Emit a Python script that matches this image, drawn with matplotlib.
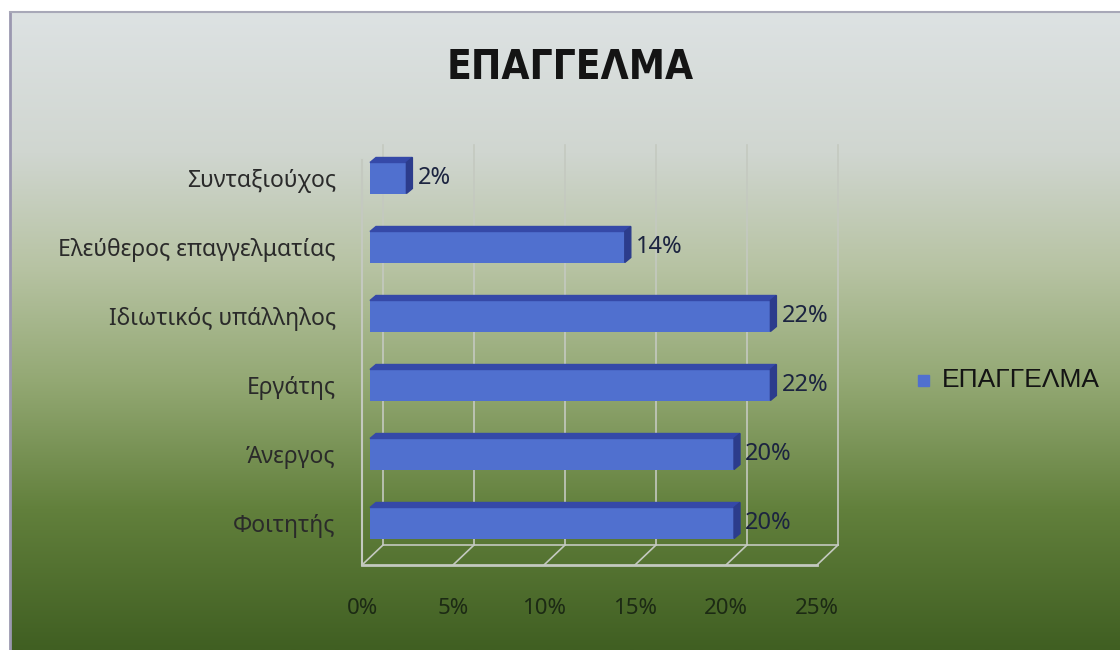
import numpy as np
import matplotlib
matplotlib.use("Agg")
import matplotlib.pyplot as plt
from matplotlib import font_manager as fm
from matplotlib.colors import LinearSegmentedColormap
from matplotlib.patches import Polygon

# ---- data ----
categories = ["Φοιτητής", "Άνεργος", "Εργάτης", "Ιδιωτικός υπάλληλος",
              "Ελεύθερος επαγγελματίας", "Συνταξιούχος"]
values = [20, 20, 22, 22, 14, 2]
value_labels = ["20%", "20%", "22%", "22%", "14%", "2%"]
xticks = [0, 5, 10, 15, 20, 25]
xtick_labels = ["0%", "5%", "10%", "15%", "20%", "25%"]
title = "ΕΠΑΓΓΕΛΜΑ"
series_name = "ΕΠΑΓΓΕΛΜΑ"

W, H = 1120, 650
fig = plt.figure(figsize=(W / 100, H / 100), dpi=100)
fig.patch.set_facecolor("white")

# list fonts available (for diagnostics of condensed faces)
names = sorted({(f.name, f.stretch, f.weight) for f in fm.fontManager.ttflist
                if "ondens" in f.fname or "arrow" in f.fname or f.stretch != "normal"})

# ---- background gradient ----
bg = fig.add_axes([10 / W, 0, 1 - 10 / W, 1 - 12 / H])
cmap = LinearSegmentedColormap.from_list("bg", [
    (0.00, "#dde2e3"), (0.22, "#d0d6d0"), (0.40, "#b7c3a3"),
    (0.58, "#93a873"), (0.78, "#62803c"), (1.00, "#405f22")])
grad = np.linspace(0, 1, 256).reshape(-1, 1)
bg.imshow(grad, aspect="auto", cmap=cmap, extent=[0, 1, 1, 0])
bg.set_xlim(0, 1); bg.set_ylim(1, 0)
bg.axis("off")
fig.add_artist(plt.Line2D([10 / W, 10 / W], [0, 1 - 12 / H], transform=fig.transFigure,
                          color="#9b98b0", lw=2))
fig.add_artist(plt.Line2D([10 / W, 1], [1 - 12 / H, 1 - 12 / H], transform=fig.transFigure,
                          color="#a8a8b8", lw=1.5))

# ---- main axes ----
px_l, px_r, px_t, px_b = 340, 850, 130, 580
ax = fig.add_axes([px_l / W, 1 - px_b / H, (px_r - px_l) / W, (px_b - px_t) / H])
ax.patch.set_alpha(0)
sx, sy = 18.2, 69.0
ax.set_xlim((px_l - 370) / sx, (px_r - 370) / sx)
ax.set_ylim((523 - px_b) / sy, (523 - px_t) / sy)
for s in ax.spines.values():
    s.set_visible(False)

back_dx = 13 / sx
front_dx = -8 / sx
y_top = (523 - 145) / sy
y_back_floor = (523 - 545) / sy
y_front_floor = (523 - 565) / sy
gcol = "#c4c9c0"
for t in xticks:
    ax.plot([t + back_dx, t + back_dx], [y_back_floor, y_top], color=gcol, lw=1.2, zorder=1)
    ax.plot([t + front_dx, t + back_dx], [y_front_floor, y_back_floor], color=gcol, lw=1.2, zorder=1)
ax.plot([xticks[0] + back_dx, xticks[-1] + back_dx], [y_back_floor] * 2, color=gcol, lw=1.2, zorder=1)
ax.plot([xticks[0] + front_dx, xticks[-1] + front_dx], [y_front_floor] * 2, color=gcol, lw=2, zorder=1)
ax.plot([front_dx, front_dx], [y_front_floor, (523 - 160) / sy], color=gcol, lw=1.5, zorder=1)

# ---- bars ----
y = np.arange(len(categories))
bh = 31 / sy
ax.barh(y, values, height=bh, color="#5070cf", edgecolor="none", zorder=3)
dxd, dyd = 6 / sx, 5 / sy
for yi, v in zip(y, values):
    top = Polygon([(0, yi + bh / 2), (v, yi + bh / 2), (v + dxd, yi + bh / 2 + dyd),
                   (dxd, yi + bh / 2 + dyd)], closed=True, color="#3549a8", zorder=3)
    side = Polygon([(v, yi - bh / 2), (v + dxd, yi - bh / 2 + dyd), (v + dxd, yi + bh / 2 + dyd),
                    (v, yi + bh / 2)], closed=True, color="#2c3c8c", zorder=3)
    ax.add_patch(top); ax.add_patch(side)

lab_font = ["Noto Sans", "DejaVu Sans"]
for yi, v, lab in zip(y, values, value_labels):
    ax.text(v + dxd + 5 / sx, yi, lab, va="center", ha="left", fontsize=17,
            family=lab_font, color="#1c2440", zorder=4)

ax.set_yticks(y)
ax.set_yticklabels(categories, fontsize=16.5, family=lab_font, color="#2a2a2a")
ax.tick_params(axis="y", length=0, pad=3)
ax.set_xticks([])
for t, lab in zip(xticks, xtick_labels):
    ax.text(t + front_dx, (523 - 608) / sy, lab, ha="center", va="center",
            fontsize=16, family=lab_font, color="#1c2a14")

# ---- title (condensed if available) ----
cond = None
for f in fm.fontManager.ttflist:
    if f.name in ("DejaVu Sans", "Liberation Sans Narrow", "Open Sans", "Noto Sans", "Roboto") \
            and f.stretch in ("condensed", "semi-condensed", "extra-condensed") and f.weight in (600, 700, "bold"):
        cond = f.fname
        break
if cond:
    tt = fig.text(570 / W, 1 - 68 / H, title, ha="center", va="center", fontsize=34,
                  fontproperties=fm.FontProperties(fname=cond, size=34), color="#141414")
else:
    tt = fig.text(570 / W, 1 - 68 / H, title, ha="center", va="center", fontsize=34,
                  fontweight="bold", family=["DejaVu Sans"], color="#141414")
# fit title width to ~247 px
fig.canvas.draw()
bb = tt.get_window_extent()
tt.set_fontsize(tt.get_fontsize() * 247 / bb.width)

# ---- legend ----
fig.patches.append(plt.Rectangle((918 / W, 1 - 386 / H), 11 / W, 11 / H,
                                 transform=fig.transFigure, color="#5070cf"))
fig.text(942 / W, 1 - 380 / H, series_name, ha="left", va="center", fontsize=19,
         family=["Liberation Sans", "DejaVu Sans"], color="#141414")

fig.savefig("out.png", dpi=100)
